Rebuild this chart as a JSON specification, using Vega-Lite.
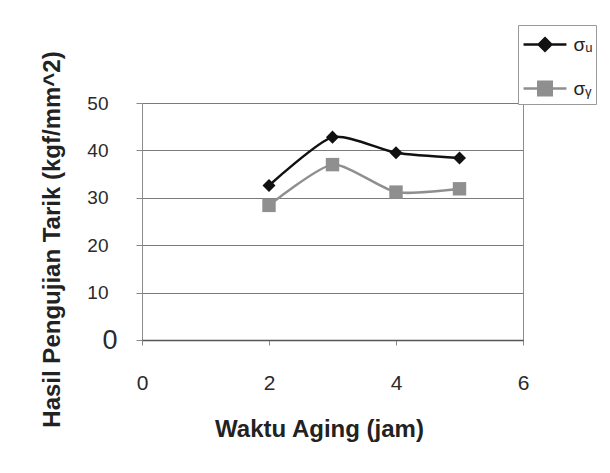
{
  "$schema": "https://vega.github.io/schema/vega-lite/v6.json",
  "width": 381,
  "height": 237,
  "autosize": "none",
  "padding": {"left": 142, "top": 103, "right": 87, "bottom": 133},
  "background": "white",
  "config": {
    "font": "Liberation Sans",
    "view": {"stroke": "#8c8c8c", "strokeWidth": 1}
  },
  "data": {
    "values": [
      {"jam": 2, "nilai": 32.6, "seri": "σu"},
      {"jam": 3, "nilai": 42.8, "seri": "σu"},
      {"jam": 4, "nilai": 39.5, "seri": "σu"},
      {"jam": 5, "nilai": 38.4, "seri": "σu"},
      {"jam": 2, "nilai": 28.4, "seri": "σy"},
      {"jam": 3, "nilai": 37.0, "seri": "σy"},
      {"jam": 4, "nilai": 31.2, "seri": "σy"},
      {"jam": 5, "nilai": 31.9, "seri": "σy"}
    ]
  },
  "encoding": {
    "x": {
      "field": "jam",
      "type": "quantitative",
      "scale": {"domain": [0, 6], "nice": false},
      "axis": {
        "title": "Waktu Aging (jam)",
        "values": [0, 2, 4, 6],
        "grid": false,
        "domainColor": "#555555",
        "domainWidth": 1.5,
        "tickSize": 5,
        "tickColor": "#888888",
        "labelFlush": false,
        "labelFontSize": 21,
        "labelPadding": 27,
        "labelColor": "#2a2a2a",
        "titleFontSize": 24,
        "titleFontWeight": "bold",
        "titleColor": "#222222",
        "titleX": 177,
        "titleY": 77,
        "titleBaseline": "top",
        "titleAlign": "center"
      }
    },
    "y": {
      "field": "nilai",
      "type": "quantitative",
      "scale": {"domain": [0, 50], "nice": false},
      "axis": {
        "title": "Hasil Pengujian Tarik (kgf/mm^2)",
        "values": [0, 10, 20, 30, 40, 50],
        "grid": true,
        "gridColor": "#7a7a7a",
        "gridWidth": 1,
        "domain": false,
        "tickSize": 6,
        "tickColor": "#888888",
        "labelFlush": false,
        "labelFontSize": {"condition": {"test": "datum.value == 0", "value": 27}, "value": 19},
        "labelPadding": {"condition": {"test": "datum.value == 0", "value": 19}, "value": 28},
        "labelColor": "#2a2a2a",
        "titleFontSize": 24,
        "titleFontWeight": "bold",
        "titleColor": "#222222",
        "titleAngle": -90,
        "titleX": -90,
        "titleY": 136,
        "titleAlign": "center",
        "titleBaseline": "middle"
      }
    },
    "color": {
      "field": "seri",
      "type": "nominal",
      "scale": {"domain": ["σu", "σy"], "range": ["#111111", "#8f8f8f"]},
      "legend": {
        "title": null,
        "orient": "none",
        "legendX": 376,
        "legendY": -78,
        "direction": "vertical",
        "fillColor": "white",
        "strokeColor": "#9a9a9a",
        "padding": 3,
        "symbolSize": 900,
        "symbolOffset": 7.5,
        "labelOffset": 12,
        "rowPadding": 16,
        "labelFontSize": 19,
        "labelColor": "#222222",
        "labelExpr": "(datum.label == 'σu' ? 'σᵤ' : 'σᵧ') + '          '",
        "encode": {
          "symbols": {
            "update": {
              "shape": {"signal": "datum.value === 'σu' ? 'M-1.43,0H1.43M0,-0.42L0.42,0L0,0.42L-0.42,0Z' : 'M-1.43,0H1.43M-0.45,-0.45H0.45V0.45H-0.45Z'"},
              "fill": {"signal": "scale('color', datum.value)"},
              "stroke": {"signal": "scale('color', datum.value)"},
              "strokeWidth": {"value": 2.5},
              "opacity": {"value": 1}
            }
          }
        }
      }
    }
  },
  "layer": [
    {
      "mark": {"type": "line", "interpolate": "cardinal", "tension": 0.35, "strokeWidth": 2.5}
    },
    {
      "transform": [{"filter": "datum.seri == 'σu'"}],
      "mark": {"type": "point", "shape": "diamond", "filled": true, "opacity": 1, "size": 170}
    },
    {
      "transform": [{"filter": "datum.seri == 'σy'"}],
      "mark": {"type": "point", "shape": "square", "filled": true, "opacity": 1, "size": 180}
    }
  ]
}
